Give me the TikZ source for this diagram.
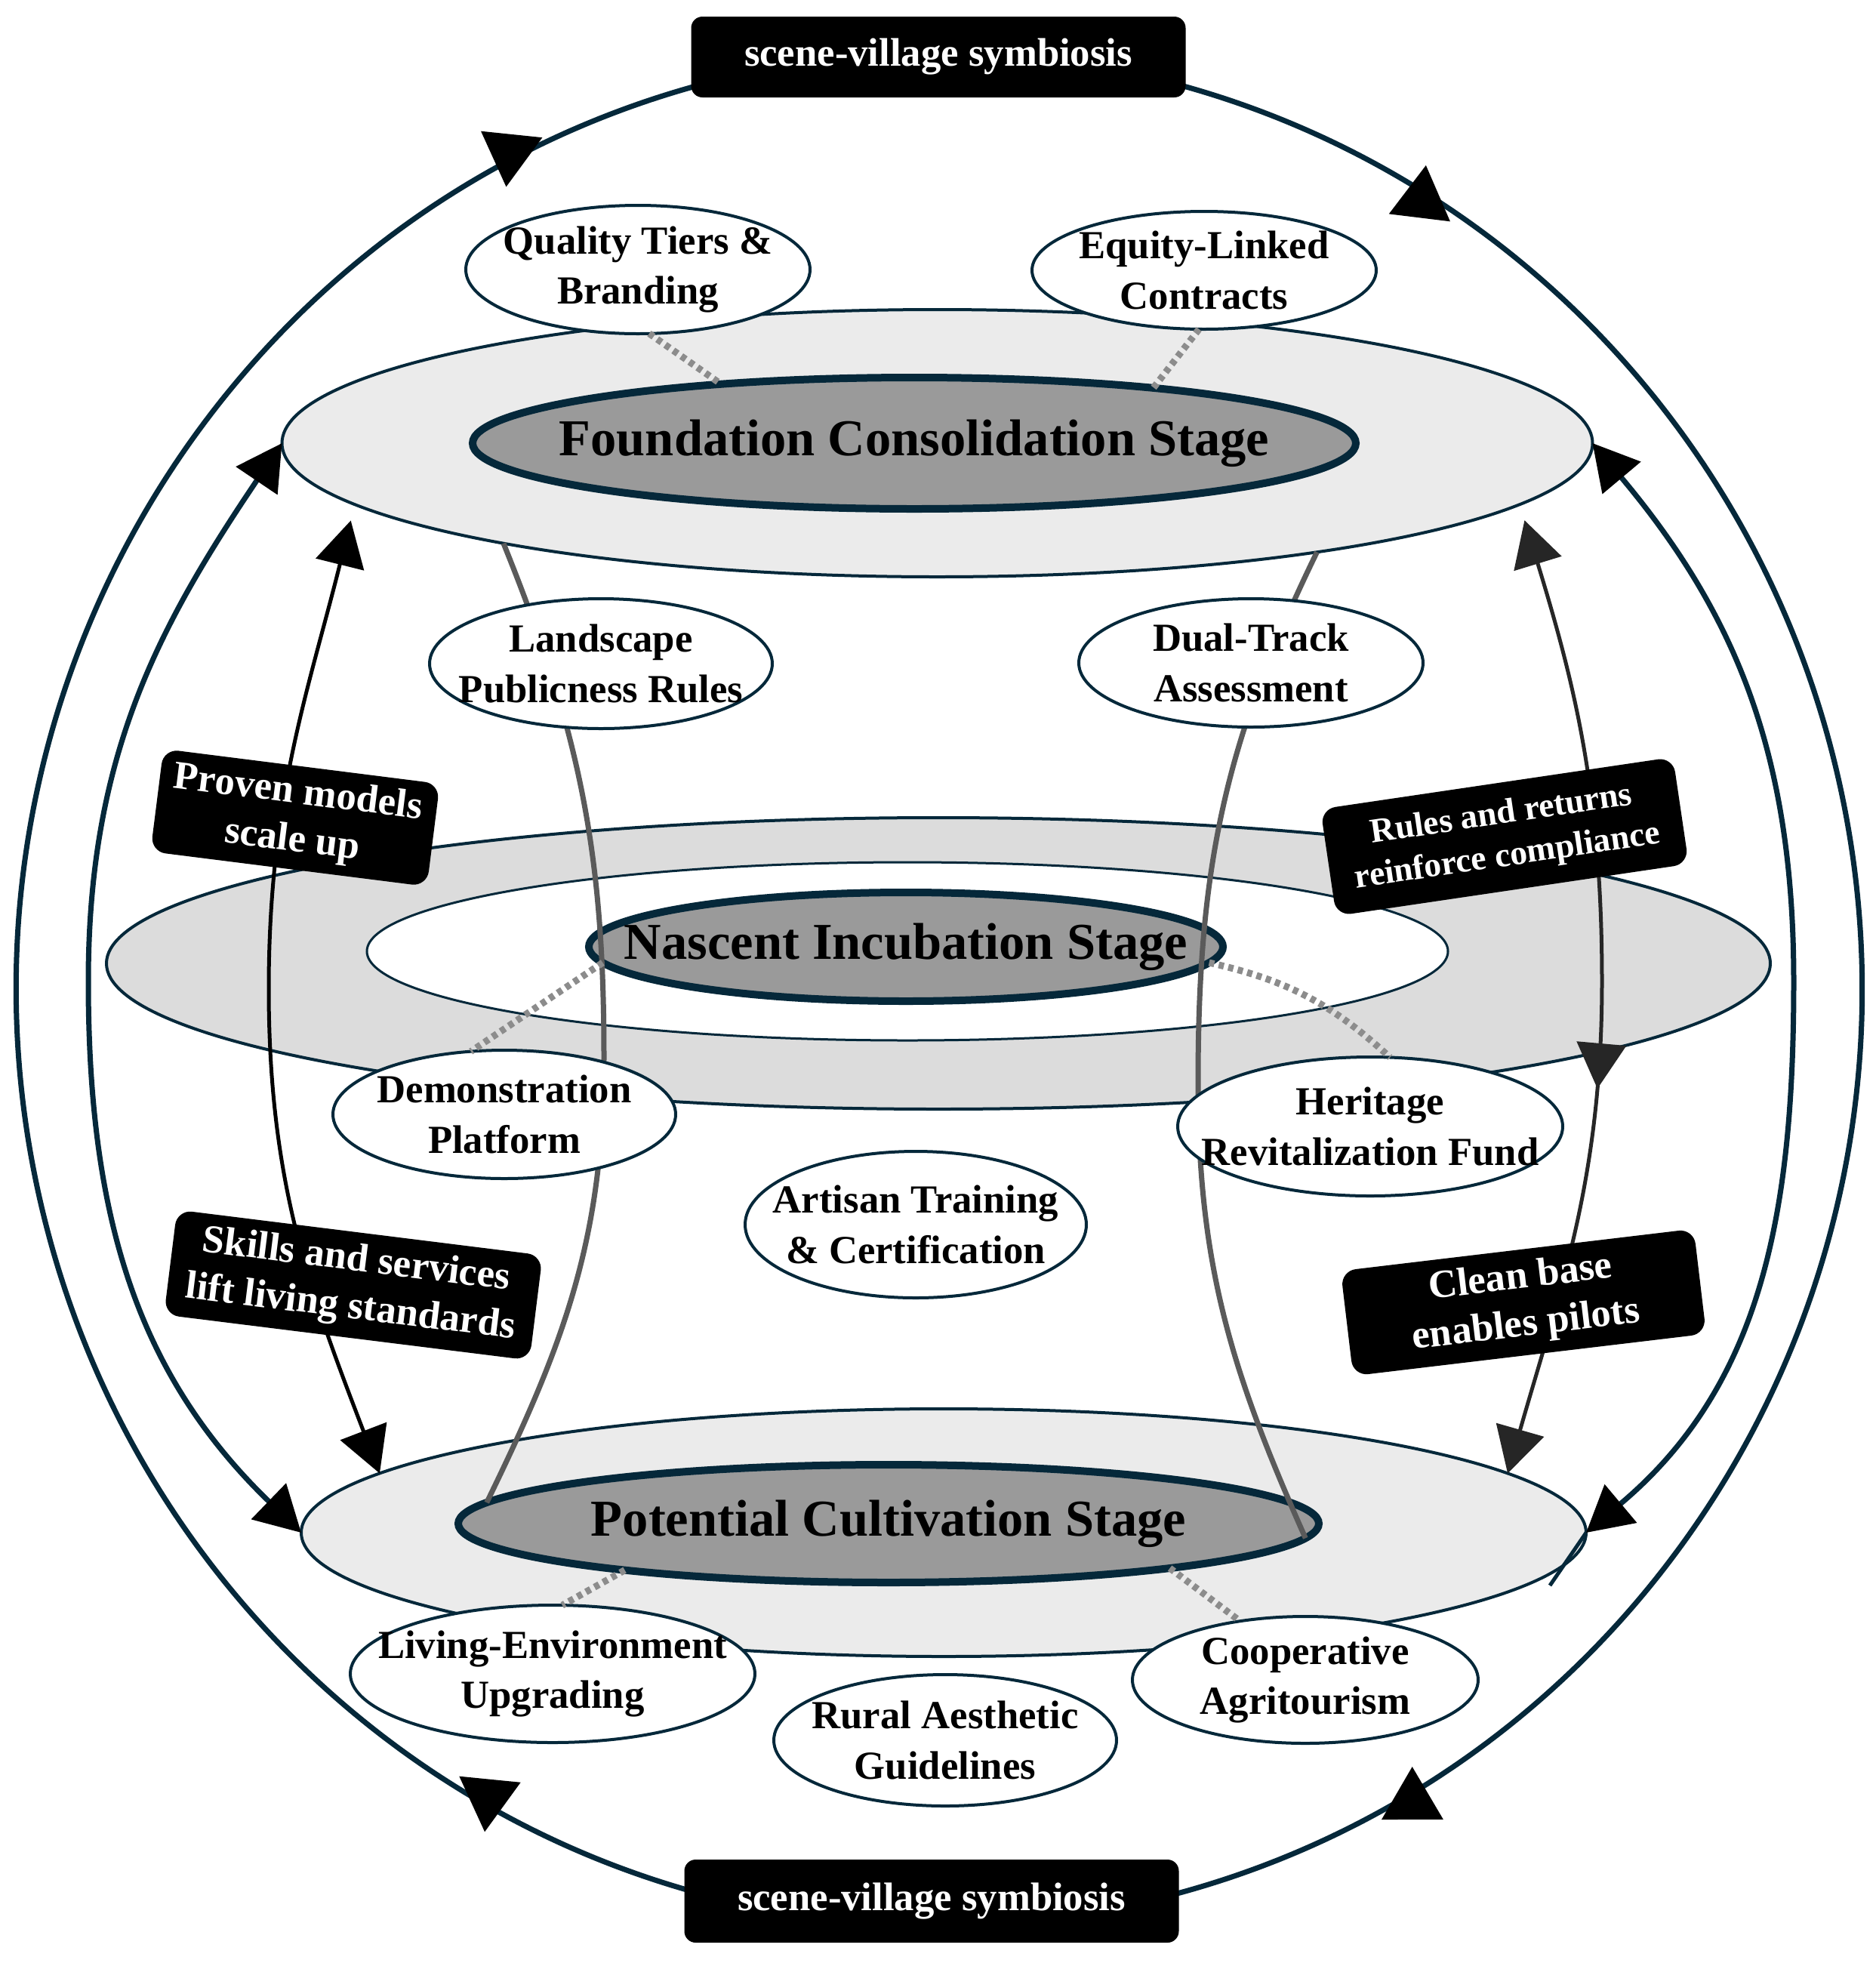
\documentclass[tikz,border=0pt]{standalone}
\usepackage{fontspec}
\setmainfont{Liberation Serif}
\usetikzlibrary{shapes.geometric,arrows.meta,decorations.markings}

\definecolor{navy}{HTML}{05283A}
\definecolor{palegray}{HTML}{EBEBEB}
\definecolor{ringgray}{HTML}{DCDCDC}
\definecolor{coregray}{HTML}{9A9A9A}
\definecolor{pillargray}{HTML}{5A5A5A}
\definecolor{dotgray}{HTML}{8C8C8C}

\begin{document}
\begin{tikzpicture}[
    ringline/.style={draw=navy, line width=0.07cm},
    ringtips/.style n args={4}{postaction={decorate}, decoration={markings,
      mark=at position #1 with {\pgfsetcolor{black}\pgftransformrotate{#2}\pgftransformxshift{0.35cm}\arrow{Triangle[width=0.8cm,length=0.7cm]}},
      mark=at position #3 with {\pgfsetcolor{black}\pgftransformrotate{#4}\pgftransformxshift{0.35cm}\arrow{Triangle[width=0.8cm,length=0.7cm]}}}},
    looptips/.style={arrows={Triangle[width=0.65cm,length=0.6cm,color=black]-Triangle[width=0.65cm,length=0.6cm,color=black]}},
    stagering/.style={ellipse, draw=navy, line width=0.04cm, inner sep=0pt, outer sep=0pt},
    stagecore/.style={ellipse, draw=navy, line width=0.1cm, fill=coregray, inner xsep=-1.2cm, inner ysep=0pt, outer sep=0pt, font=\fontsize{19.5pt}{23pt}\selectfont\bfseries},
    factor/.style={ellipse, draw=navy, line width=0.04cm, fill=white, inner xsep=-1cm, inner ysep=-0.15cm, outer sep=0pt, align=center, font=\fontsize{15pt}{19pt}\selectfont\bfseries},
    tag/.style={rectangle, rounded corners=0.2cm, fill=black, text=white, inner sep=0pt, align=center, font=\fontsize{15pt}{18pt}\selectfont\bfseries},
    pillar/.style={draw=pillargray, line width=0.07cm},
    tie/.style={draw=dotgray, line width=0.09cm, dash pattern=on 0.07cm off 0.06cm},
    lift/.style={line width=0.05cm, arrows={Triangle[width=0.65cm,length=0.6cm]-Triangle[width=0.65cm,length=0.6cm]}}
  ]
  \useasboundingbox (0,0) rectangle (24.84,-26);

  \coordinate (ringtl) at (9.48,-1.07);
  \coordinate (ringbr) at (15.40,-25.13);
  \draw[ringline, ringtips={0.09}{56}{0.90}{-66}] (ringtl) arc[start angle=104, end angle=256, x radius=12.22, y radius=12.40];
  \draw[ringline, ringtips={0.11}{59}{0.885}{-65}] (ringbr) arc[start angle=-76, end angle=76, x radius=12.22, y radius=12.40];

  \node[stagering, fill=palegray, minimum width=17.36cm, minimum height=3.54cm] (founout) at (12.415,-5.87) {};
  \node[stagecore, minimum width=11.70cm, minimum height=1.74cm] (founin) at (12.11,-5.87) {Foundation Consolidation Stage};
  \node[stagering, fill=ringgray, minimum width=22.04cm, minimum height=3.86cm] (nasout) at (12.43,-12.76) {};
  \node[stagering, fill=white, line width=0.03cm, minimum width=14.32cm, minimum height=2.36cm] (nashole) at (12.02,-12.60) {};
  \node[stagecore, minimum width=8.40cm, minimum height=1.44cm] (nasin) at (12.00,-12.54) {Nascent Incubation Stage};
  \node[stagering, fill=palegray, minimum width=17.02cm, minimum height=3.28cm] (potout) at (12.50,-20.30) {};
  \node[stagecore, minimum width=11.40cm, minimum height=1.56cm] (potin) at (11.77,-20.18) {Potential Cultivation Stage};

  \coordinate (innl) at (1.17,-13.0);
  \coordinate (innr) at (23.76,-13.0);
  \coordinate (tailr) at (20.53,-21.0);
  \draw[ringline, looptips] (founout.west) to[out=236, in=90] (innl) to[out=-90, in=136] (potout.west);
  \draw[ringline, looptips] (founout.east) to[out=-50, in=90] (innr) to[out=-90, in=40] (potout.east);
  \draw[navy, line width=0.05cm] (potout.east) -- (tailr);

  \coordinate (waistl) at (8.00,-13.99);
  \coordinate (waistr) at (15.87,-14.33);
  \draw[pillar] (founout.193) to[out=-68, in=90] (waistl) to[out=-90, in=64] (potin.177);
  \draw[pillar] (founout.-16) to[out=-116, in=90] (waistr) to[out=-90, in=114] (potin.-2);

  \node[factor, minimum width=4.56cm, minimum height=1.70cm] (qual) at (8.45,-3.57) {Quality Tiers \&\\Branding};
  \node[factor, minimum width=4.56cm, minimum height=1.56cm] (equi) at (15.95,-3.58) {Equity-Linked\\Contracts};
  \node[factor, minimum width=4.54cm, minimum height=1.72cm] (land) at (7.96,-8.79) {Landscape\\Publicness Rules};
  \node[factor, minimum width=4.56cm, minimum height=1.70cm] (dual) at (16.57,-8.78) {Dual-Track\\Assessment};
  \node[factor, minimum width=4.54cm, minimum height=1.70cm] (demo) at (6.68,-14.76) {Demonstration\\Platform};
  \node[factor, minimum width=5.10cm, minimum height=1.84cm] (heri) at (18.15,-14.92) {Heritage\\Revitalization Fund};
  \node[factor, minimum width=4.52cm, minimum height=1.94cm] (arti) at (12.13,-16.22) {Artisan Training\\\& Certification};
  \node[factor, minimum width=5.36cm, minimum height=1.82cm] (livi) at (7.32,-22.17) {Living-Environment\\Upgrading};
  \node[factor, minimum width=4.54cm, minimum height=1.74cm] (rura) at (12.52,-23.05) {Rural Aesthetic\\Guidelines};
  \node[factor, minimum width=4.58cm, minimum height=1.68cm] (coop) at (17.29,-22.25) {Cooperative\\Agritourism};

  \draw[tie] (qual.-80) -- (founin.163);
  \draw[tie] (equi.-95) -- (founin.13.5);
  \draw[tie] (nasin.183) -- (demo.118);
  \draw[tie] (nasin.-3) to[bend left=15] (heri.74);
  \draw[tie] (potin.190) -- (livi.82);
  \draw[tie] (potin.-9.2) -- (coop.138);

  \coordinate (liftl) at (3.56,-13.10);
  \coordinate (liftr) at (21.22,-13.0);
  \draw[lift, shorten <=0.22cm] (founout.186) to[out=-104, in=90] (liftl) to[out=-90, in=111] (potout.174);
  \draw[lift, draw=black!85, shorten <=0.22cm, postaction={decorate}, decoration={markings, mark=at position 0.6 with {\arrow{Triangle[width=0.65cm,length=0.6cm]}}}] (founout.-6.4) to[out=-73, in=90] (liftr) to[out=-90, in=74] (potout.6);

  \node[tag, minimum width=3.69cm, minimum height=1.37cm, rotate=-7.2] (proven) at (3.91,-10.83) {Proven models\\scale up};
  \node[tag, minimum width=4.88cm, minimum height=1.40cm, rotate=-7.1] (skills) at (4.68,-17.02) {Skills and services\\lift living standards};
  \node[tag, minimum width=4.72cm, minimum height=1.43cm, rotate=8.4, font=\fontsize{13pt}{16pt}\selectfont\bfseries] (rules) at (19.93,-11.08) {Rules and returns\\reinforce compliance};
  \node[tag, minimum width=4.71cm, minimum height=1.40cm, rotate=6.8] (clean) at (20.18,-17.25) {Clean base\\enables pilots};

  \node[tag, rounded corners=0.15cm, minimum width=6.55cm, minimum height=1.07cm] (symtop) at (12.43,-0.755) {scene-village symbiosis};
  \node[tag, rounded corners=0.15cm, minimum width=6.55cm, minimum height=1.10cm] (symbot) at (12.34,-25.18) {scene-village symbiosis};
\end{tikzpicture}
\end{document}
